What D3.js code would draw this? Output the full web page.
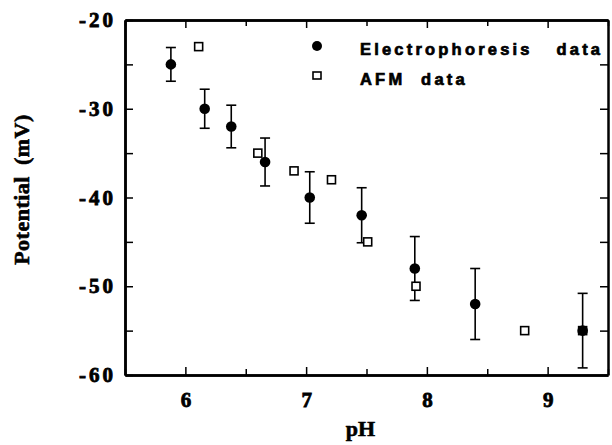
<!DOCTYPE html>
<html>
<head>
<meta charset="utf-8">
<script src="https://cdn.jsdelivr.net/npm/d3@7"></script>
<style>
  body { margin: 0; background: #fff; }
  svg { display: block; }
  .tick text { font-family: 'Liberation Serif', 'Times New Roman', serif; font-weight: 700; font-size: 21px; }
</style>
</head>
<body>
<div id="chart"></div>
<script>
// Zeta potential vs pH: electrophoresis (with error bars) and AFM estimates

const phElectro  = [5.88, 6.16, 6.38, 6.66, 7.03, 7.46, 7.90, 8.40, 9.29];
const potElectro = [-25, -30, -32, -36, -40, -42, -48, -52, -55];
const errElectro = [1.9, 2.2, 2.4, 2.7, 2.9, 3.1, 3.6, 4.0, 4.2];

const phAfm  = [6.11, 6.60, 6.90, 7.21, 7.51, 7.91, 8.81, 9.29];
const potAfm = [-23, -35, -37, -38, -45, -50, -55, -55];

const xMajor = [6, 7, 8, 9];
const xMinor = [5.5, 6.5, 7.5, 8.5, 9.5];
const yMajor = [-20, -30, -40, -50, -60];
const yMinor = [-25, -35, -45, -55];

const legendLabels = ["Electrophoresis data", "AFM data"];

const W = 612, H = 445;
const margin = { top: 20, right: 4, bottom: 70, left: 125 };
const w = W - margin.left - margin.right,
      h = H - margin.top - margin.bottom;

const svg = d3.select("#chart").append("svg")
    .attr("width", W)
    .attr("height", H);

const g = svg.append("g")
    .attr("transform", `translate(${margin.left},${margin.top})`);

const x = d3.scaleLinear().domain([5.5, 9.5]).range([0, w]);
const y = d3.scaleLinear().domain([-60, -20]).range([h, 0]);

const serif = "'Liberation Serif', 'Times New Roman', serif";
const sans = "'Liberation Sans', Arial, Helvetica, sans-serif";

function styleAxis(sel) {
  sel.select(".domain").attr("stroke", "#000").attr("stroke-width", 2.5);
  sel.selectAll(".tick line").attr("stroke", "#000").attr("stroke-width", 1.5);
  sel.selectAll("text")
    .style("fill", "#000")
    .style("stroke", "#000")
    .style("stroke-width", "0.8px");
}

// bottom axis with labels
g.append("g")
  .attr("transform", `translate(0,${h})`)
  .call(d3.axisBottom(x).tickValues(xMajor).tickSize(-8).tickSizeOuter(0)
    .tickPadding(17).tickFormat(d3.format("d")))
  .call(styleAxis);
g.append("g")
  .attr("transform", `translate(0,${h})`)
  .call(d3.axisBottom(x).tickValues(xMinor).tickSize(-6).tickSizeOuter(0).tickFormat(""))
  .call(styleAxis);

// top axis, ticks only
g.append("g")
  .call(d3.axisTop(x).tickValues(xMajor).tickSize(-8).tickSizeOuter(0).tickFormat(""))
  .call(styleAxis);
g.append("g")
  .call(d3.axisTop(x).tickValues(xMinor).tickSize(-6).tickSizeOuter(0).tickFormat(""))
  .call(styleAxis);

// left axis with labels
g.append("g")
  .call(d3.axisLeft(y).tickValues(yMajor).tickSize(-8).tickSizeOuter(0)
    .tickPadding(12).tickFormat(d => d3.format("d")(d).replace("−", "-")))
  .call(styleAxis)
  .call(a => a.selectAll("text").attr("letter-spacing", "3px").attr("dx", "3px"));
g.append("g")
  .call(d3.axisLeft(y).tickValues(yMinor).tickSize(-8).tickSizeOuter(0).tickFormat(""))
  .call(styleAxis);

// right axis, ticks only
g.append("g")
  .attr("transform", `translate(${w},0)`)
  .call(d3.axisRight(y).tickValues(yMajor.concat(yMinor)).tickSize(-8).tickSizeOuter(0).tickFormat(""))
  .call(styleAxis);

// axis titles
svg.append("text")
  .attr("x", margin.left + w / 2 - 6)
  .attr("y", 436)
  .attr("text-anchor", "middle")
  .attr("font-family", serif)
  .attr("font-weight", "bold")
  .attr("font-size", 22)
  .attr("stroke", "#000")
  .attr("stroke-width", 0.6)
  .text("pH");

svg.append("text")
  .attr("transform", `translate(29,${margin.top + h / 2 - 8}) rotate(-90)`)
  .attr("text-anchor", "middle")
  .attr("letter-spacing", "0.5px")
  .attr("font-family", serif)
  .attr("font-weight", "bold")
  .attr("font-size", 22)
  .attr("word-spacing", "5px")
  .attr("stroke", "#000")
  .attr("stroke-width", 0.6)
  .text("Potential (mV)");

// error bars
const electro = phElectro.map((p, i) => ({ ph: p, v: potElectro[i], e: errElectro[i] }));
const afm = phAfm.map((p, i) => ({ ph: p, v: potAfm[i] }));

const eb = g.append("g").attr("stroke", "#000").attr("stroke-width", 1.6);
electro.forEach(d => {
  eb.append("line")
    .attr("x1", x(d.ph)).attr("x2", x(d.ph))
    .attr("y1", y(d.v + d.e)).attr("y2", y(d.v - d.e));
  [d.v + d.e, d.v - d.e].forEach(v => {
    eb.append("line")
      .attr("x1", x(d.ph) - 5).attr("x2", x(d.ph) + 5)
      .attr("y1", y(v)).attr("y2", y(v));
  });
});

// AFM squares
g.selectAll(".afm")
  .data(afm)
  .enter().append("rect")
    .attr("class", "afm")
    .attr("x", d => x(d.ph) - 4)
    .attr("y", d => y(d.v) - 4)
    .attr("width", 8)
    .attr("height", 8)
    .attr("fill", "#fff")
    .attr("stroke", "#000")
    .attr("stroke-width", 1.6);

// electrophoresis circles
g.selectAll(".elec")
  .data(electro)
  .enter().append("circle")
    .attr("class", "elec")
    .attr("cx", d => x(d.ph))
    .attr("cy", d => y(d.v))
    .attr("r", 5.3)
    .attr("fill", "#000");

// legend
const lg = svg.append("g");
lg.append("circle").attr("cx", 317).attr("cy", 46).attr("r", 5).attr("fill", "#000");
lg.append("rect").attr("x", 313).attr("y", 72).attr("width", 8).attr("height", 7)
  .attr("fill", "#fff").attr("stroke", "#000").attr("stroke-width", 1.6);
const wordGap = [16, 8];
legendLabels.forEach((t, i) => {
  lg.append("text")
    .attr("x", 360)
    .attr("y", 55 + i * 30)
    .attr("letter-spacing", "3.2px")
    .attr("word-spacing", wordGap[i] + "px")
    .attr("font-family", sans)
    .attr("font-weight", "bold")
    .attr("font-size", 16.5)
    .attr("fill", "#000")
    .attr("stroke", "#000")
    .attr("stroke-width", 0.7)
    .text(t);
});
</script>
</body>
</html>
